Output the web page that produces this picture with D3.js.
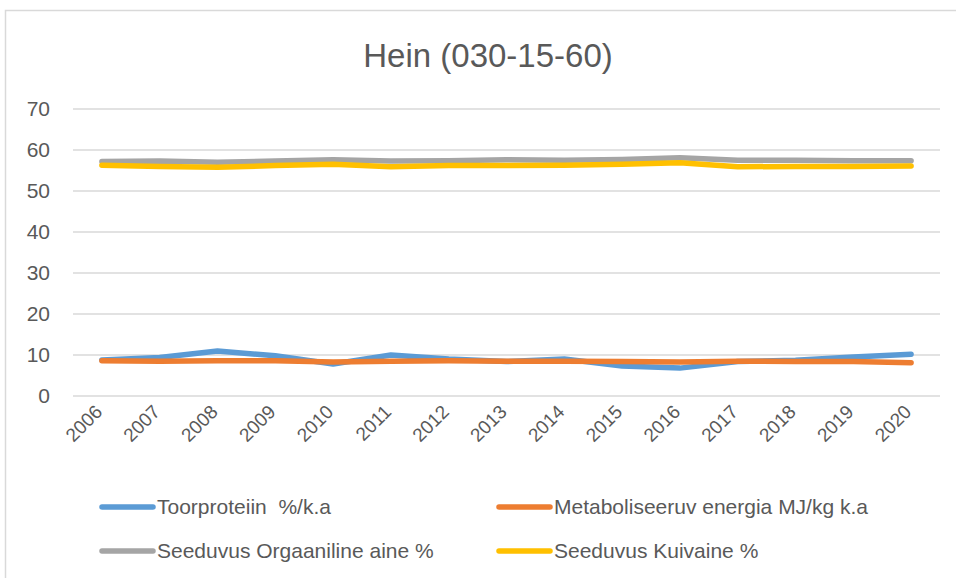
<!DOCTYPE html>
<html>
<head>
<meta charset="utf-8">
<script src="https://d3js.org/d3.v7.min.js"></script>
<style>
  body { margin: 0; background: #fff; }
  svg text { font-family: "Liberation Sans", Arial, sans-serif; fill: #595959; }
</style>
</head>
<body>
<div id="chart"></div>
<script>
// data
var years = ["2006","2007","2008","2009","2010","2011","2012","2013","2014","2015","2016","2017","2018","2019","2020"];
var toorproteiin = [8.8, 9.4, 11.0, 9.8, 7.8, 10.0, 9.0, 8.4, 9.0, 7.3, 6.8, 8.4, 8.7, 9.5, 10.2];
var metaboliseeruv = [8.6, 8.5, 8.6, 8.6, 8.3, 8.5, 8.6, 8.5, 8.5, 8.4, 8.3, 8.5, 8.4, 8.4, 8.1];
var orgaaniline = [57.2, 57.3, 57.0, 57.3, 57.6, 57.3, 57.4, 57.6, 57.5, 57.7, 58.1, 57.5, 57.5, 57.4, 57.4];
var kuivaine = [56.3, 56.0, 55.8, 56.2, 56.5, 55.9, 56.2, 56.2, 56.3, 56.5, 56.9, 55.9, 56.0, 56.0, 56.1];
var yTicks = [0, 10, 20, 30, 40, 50, 60, 70];

var series = [
  {name: "Toorproteiin  %/k.a", values: toorproteiin, color: "#5B9BD5"},
  {name: "Metaboliseeruv energia MJ/kg k.a", values: metaboliseeruv, color: "#ED7D31"},
  {name: "Seeduvus Orgaaniline aine %", values: orgaaniline, color: "#A5A5A5"},
  {name: "Seeduvus Kuivaine %", values: kuivaine, color: "#FFC000"}
];

var W = 956, H = 578;
var margin = {top: 109, right: 16, bottom: 182, left: 73};
var width = W - margin.left - margin.right,
    height = H - margin.top - margin.bottom;

var svg = d3.select("#chart").append("svg")
    .attr("width", W)
    .attr("height", H);

// chart area border
svg.append("rect")
    .attr("x", 5.5).attr("y", 10.5)
    .attr("width", W + 20).attr("height", H + 20)
    .attr("fill", "none")
    .attr("stroke", "#D9D9D9")
    .attr("stroke-width", 1.5);

svg.append("text")
    .attr("x", 488)
    .attr("y", 67)
    .attr("text-anchor", "middle")
    .style("font-size", "33px")
    .text("Hein (030-15-60)");

var g = svg.append("g")
    .attr("transform", "translate(" + margin.left + "," + margin.top + ")");

var x = d3.scalePoint()
    .domain(years)
    .range([0, width])
    .padding(0.5);

var y = d3.scaleLinear()
    .domain([0, 70])
    .range([height, 0]);

// gridlines
g.selectAll(".grid")
  .data(yTicks)
  .enter().append("line")
    .attr("x1", 0).attr("x2", width)
    .attr("y1", function(d) { return y(d); })
    .attr("y2", function(d) { return y(d); })
    .attr("stroke", "#D9D9D9")
    .attr("stroke-width", 1.5);

// y axis labels
var yAxis = g.append("g")
    .call(d3.axisLeft(y).tickValues(yTicks).tickSize(0).tickPadding(23));
yAxis.select(".domain").remove();
yAxis.selectAll("text")
    .style("font-size", "21px")
    .attr("fill", "#595959");

// x axis labels, rotated
var xAxis = g.append("g")
    .attr("transform", "translate(0," + height + ")")
    .call(d3.axisBottom(x).tickSize(0).tickPadding(0));
xAxis.select(".domain").remove();
xAxis.selectAll("text")
    .style("font-size", "19px")
    .attr("fill", "#595959")
    .attr("text-anchor", "end")
    .attr("dy", 0)
    .attr("transform", "translate(1,17) rotate(-45)");

var line = d3.line()
    .x(function(d, i) { return x(years[i]); })
    .y(function(d) { return y(d); });

series.forEach(function(s) {
  g.append("path")
      .datum(s.values)
      .attr("fill", "none")
      .attr("stroke", s.color)
      .attr("stroke-width", 5.5)
      .attr("stroke-linecap", "round")
      .attr("stroke-linejoin", "round")
      .attr("d", line);
});

// legend
var legend = svg.append("g");
var legX = [100, 497], legY = [507, 551];
series.forEach(function(s, i) {
  var lx = legX[i % 2], ly = legY[Math.floor(i / 2)];
  legend.append("line")
      .attr("x1", lx + 2).attr("x2", lx + 53)
      .attr("y1", ly).attr("y2", ly)
      .attr("stroke", s.color)
      .attr("stroke-width", 5.5)
      .attr("stroke-linecap", "round");
  legend.append("text")
      .attr("x", lx + 57)
      .attr("y", ly + 7)
      .style("font-size", "21px")
      .style("white-space", "pre")
      .text(s.name);
});
</script>
</body>
</html>
